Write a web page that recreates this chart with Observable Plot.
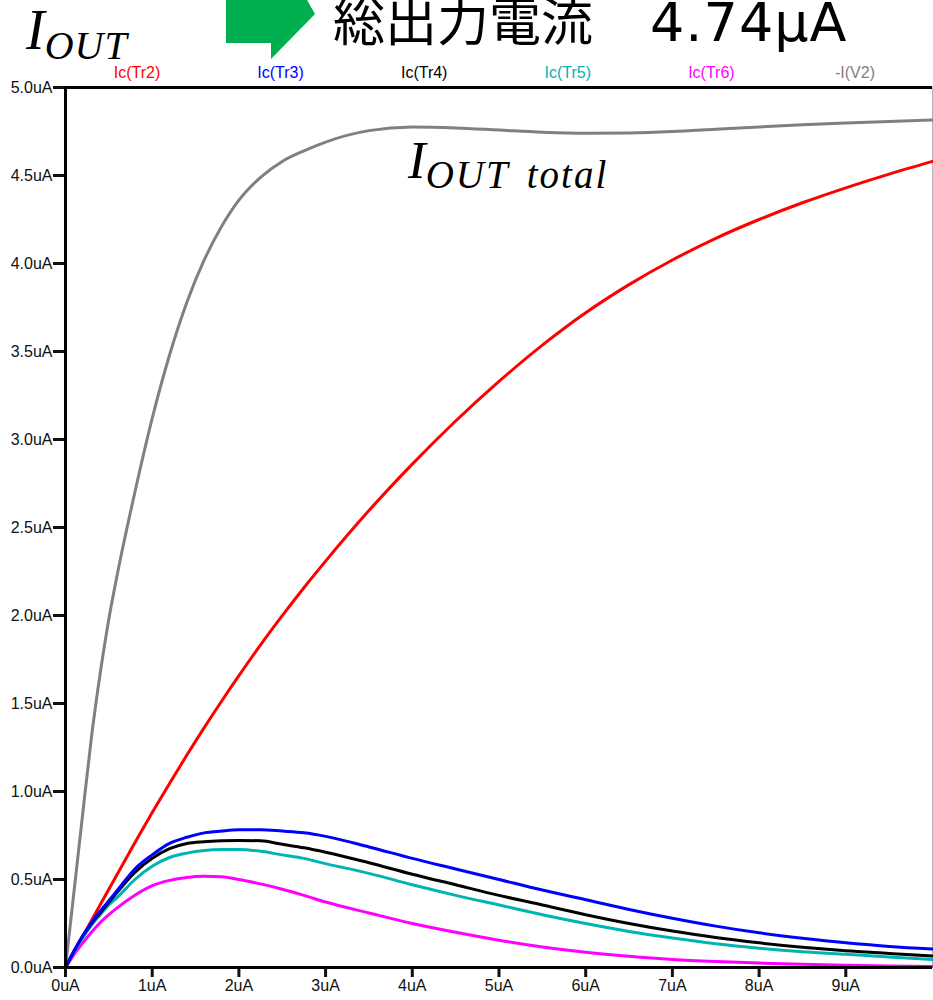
<!DOCTYPE html>
<html><head><meta charset="utf-8">
<script src="https://cdn.jsdelivr.net/npm/d3@7"></script>
<script src="https://cdn.jsdelivr.net/npm/@observablehq/plot@0.6"></script>
<style>
html,body{margin:0;padding:0;background:#fff}
body{width:933px;height:1000px;overflow:hidden;position:relative;font-family:"Liberation Sans",Arial,sans-serif}
#chart{position:absolute;left:0;top:0}
#overlay{position:absolute;left:0;top:0;pointer-events:none}
</style></head>
<body>
<div id="chart"></div>
<svg id="overlay" width="933" height="1000"></svg>
<script>
// ---- data (uA) ----
const xs = [0,0.1,0.2,0.3,0.4,0.5,0.6,0.8,1.0,1.2,1.4,1.6,1.8,2.0,2.25,2.5,2.75,3.0,3.5,4.0,4.5,5.0,5.5,6.0,6.5,7.0,7.5,8.0,8.5,9.0,9.5,10];
const icTr2 = [0,0.089,0.178,0.267,0.356,0.444,0.533,0.709,0.88,1.046,1.207,1.363,1.513,1.658,1.833,1.999,2.158,2.309,2.596,2.86,3.105,3.33,3.536,3.72,3.88,4.02,4.143,4.25,4.345,4.43,4.508,4.58];
const icTr3 = [0,0.095,0.18,0.255,0.32,0.38,0.44,0.56,0.64,0.705,0.74,0.765,0.775,0.782,0.783,0.775,0.765,0.745,0.685,0.62,0.56,0.50,0.44,0.385,0.33,0.28,0.235,0.197,0.166,0.14,0.12,0.105];
const icTr4 = [0,0.095,0.18,0.25,0.31,0.37,0.43,0.54,0.62,0.675,0.705,0.715,0.72,0.722,0.72,0.70,0.68,0.655,0.595,0.53,0.47,0.41,0.355,0.30,0.25,0.207,0.17,0.14,0.115,0.095,0.08,0.065];
const icTr5 = [0,0.09,0.17,0.24,0.30,0.355,0.40,0.50,0.575,0.625,0.65,0.665,0.67,0.67,0.66,0.64,0.62,0.59,0.535,0.47,0.41,0.355,0.30,0.25,0.205,0.167,0.135,0.11,0.09,0.075,0.06,0.045];
const icTr6 = [0,0.075,0.14,0.20,0.255,0.30,0.34,0.41,0.465,0.495,0.512,0.518,0.515,0.50,0.475,0.445,0.41,0.372,0.31,0.25,0.20,0.155,0.117,0.087,0.064,0.046,0.034,0.025,0.018,0.013,0.009,0.005];
const iV2   = [0,0.44,0.88,1.31,1.67,1.98,2.24,2.70,3.12,3.48,3.78,4.02,4.21,4.36,4.49,4.58,4.64,4.69,4.755,4.775,4.77,4.758,4.746,4.74,4.742,4.75,4.763,4.776,4.788,4.798,4.807,4.815];
const seriesNames = ["Ic(Tr2)","Ic(Tr3)","Ic(Tr4)","Ic(Tr5)","Ic(Tr6)","-I(V2)"];
const seriesColors = ["#ff0000","#0000ff","#000000","#00b4b4","#ff00ff","#808080"];
const seriesValues = [icTr2,icTr3,icTr4,icTr5,icTr6,iV2];
const xTicks = [0,1,2,3,4,5,6,7,8,9];
const yTicks = [0,0.5,1,1.5,2,2.5,3,3.5,4,4.5,5];
const titleJa = "総出力電流";
const titleVal = "4.74μA";

const rows = seriesNames.flatMap((name,k)=>xs.map((x,i)=>({name,x,y:seriesValues[k][i]})));
const order = ["-I(V2)","Ic(Tr2)","Ic(Tr6)","Ic(Tr5)","Ic(Tr4)","Ic(Tr3)"];
rows.sort((a,b)=>order.indexOf(a.name)-order.indexOf(b.name));

const chart = Plot.plot({
  width: 933, height: 1000,
  marginLeft: 65, marginRight: 1, marginTop: 87, marginBottom: 33,
  x: {domain: [0,10]},
  y: {domain: [0,5]},
  color: {domain: seriesNames, range: seriesColors},
  style: {fontFamily: '"Liberation Sans", Arial, sans-serif', background: "#fff"},
  marks: [
    Plot.ruleX([10], {stroke: "#b4b4b4", strokeWidth: 1}),
    Plot.line(rows, {x: "x", y: "y", z: "name", stroke: "name", strokeWidth: 3, curve: "monotone-x"}),
    Plot.axisY(yTicks, {tickSize: 12, strokeWidth: 3, tickPadding: 1, fontSize: 16, label: null, color: "#111",
      tickFormat: d => d.toFixed(1) + "uA"}),
    Plot.axisX(xTicks, {tickSize: 10, strokeWidth: 3, tickPadding: 2, fontSize: 16, label: null, color: "#111",
      tickFormat: d => d + "uA"}),
    Plot.ruleX([0], {stroke: "#000", strokeWidth: 3}),
    Plot.ruleY([0], {stroke: "#000", strokeWidth: 3}),
    Plot.ruleY([5], {stroke: "#000", strokeWidth: 3})
  ]
});
document.getElementById("chart").appendChild(chart);

// ---- overlay: title, arrow, legend, annotations ----
const ns = "http://www.w3.org/2000/svg";
const ov = document.getElementById("overlay");
function el(tag, attrs, text, parent){
  const e = document.createElementNS(ns, tag);
  for (const k in attrs) e.setAttribute(k, attrs[k]);
  if (text != null) e.textContent = text;
  (parent || ov).appendChild(e); return e;
}
// green arrow
el("polygon", {points: "226,0 307,0 315,14 271,59 271,43 226,43", fill: "#00b050"});
// title
el("text", {x: 333, y: 41, "font-family": '"Noto Sans CJK JP","Noto Sans",sans-serif', "font-size": 52, fill: "#000"}, titleJa);
el("text", {x: 650, y: 41, "font-family": '"DejaVu Sans",sans-serif', "font-size": 54, "letter-spacing": 1, fill: "#000"}, titleVal);
// I_OUT (top-left)
const t1 = el("text", {x: 26, y: 49, "font-family": '"Liberation Serif",serif', "font-style": "italic", fill: "#000"});
el("tspan", {"font-size": 56}, "I", t1);
el("tspan", {"font-size": 40, dy: 10, "letter-spacing": 1}, "OUT", t1);
// I_OUT total annotation
const t2 = el("text", {x: 408, y: 178, "font-family": '"Liberation Serif",serif', "font-style": "italic", fill: "#000"});
el("tspan", {"font-size": 53}, "I", t2);
el("tspan", {"font-size": 39, dy: 10, "letter-spacing": 2, "word-spacing": 6}, "OUT total", t2);
// legend labels across the top
seriesNames.forEach((name,i)=>{
  el("text", {x: 137 + i*143.6, y: 78, "text-anchor": "middle", "font-family": '"Liberation Sans",Arial,sans-serif', "font-size": 16, fill: seriesColors[i]}, name);
});
</script>
</body></html>
